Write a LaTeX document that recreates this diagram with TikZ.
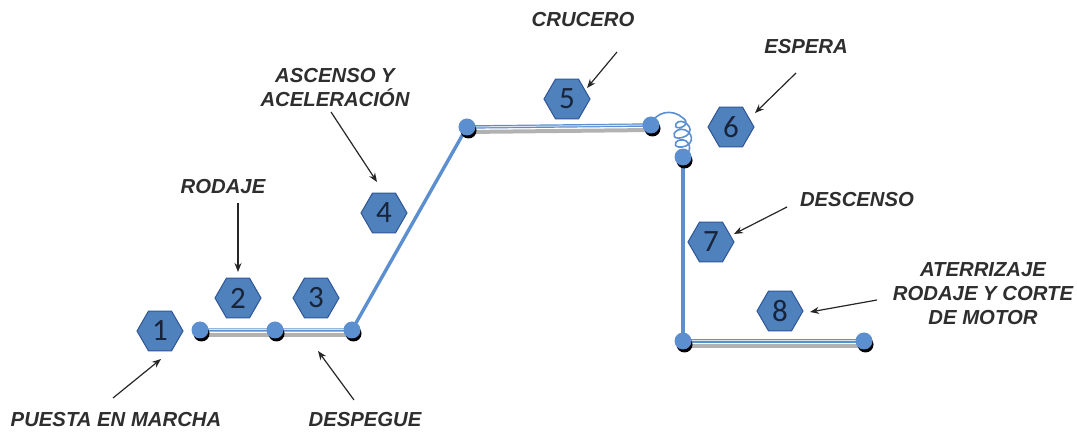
\documentclass[tikz,border=0pt]{standalone}
\usepackage{fontspec}
\setmainfont{Liberation Sans}
\newfontfamily\hexfont{Carlito}
\usetikzlibrary{shapes.geometric,arrows.meta}
\definecolor{hexfill}{HTML}{4F81BD}
\definecolor{hexedge}{HTML}{2F5597}
\definecolor{hextext}{HTML}{17243A}
\definecolor{pathblue}{HTML}{5B8FD0}
\definecolor{labgray}{HTML}{2E2E2E}
\tikzset{
  hexa/.style={regular polygon, regular polygon sides=6, minimum size=46pt, inner sep=0pt,
    fill=hexfill, draw=hexedge, line width=1pt, text=hextext, font=\hexfont\fontsize{31}{31}\selectfont},
  dotnode/.style={circle, minimum size=17pt, inner sep=0pt, fill=pathblue, draw=none},
  lab/.style={font=\bfseries\itshape\fontsize{20.3}{24}\selectfont, text=labgray, align=center, inner sep=0pt},
  arr/.style={-{Stealth[length=9pt,width=7pt]}, line width=1.2pt, black!85},
  shadowline/.style={line width=4pt, black!30, line cap=round},
  pathline/.style={line width=3.4pt, pathblue},
  hiline/.style={line width=1pt, white!75!pathblue},
}
\begin{document}
\begin{tikzpicture}[x=1pt,y=-1pt]
\useasboundingbox (0,0) rectangle (1077,435);
% dots positions
\coordinate (p1) at (200,330);
\coordinate (p2) at (275,330);
\coordinate (p3) at (352,330);
\coordinate (p4) at (467,127);
\coordinate (p5) at (651,125);
\coordinate (p6) at (683,157);
\coordinate (p7) at (683,341);
\coordinate (p8) at (864,341);
% shadows
\draw[shadowline] ([yshift=-5pt]p1) -- ([yshift=-5pt]p3);
\draw[shadowline] ([yshift=-5pt]p4) -- ([yshift=-5pt]p5);
\draw[shadowline] ([yshift=-5pt]p7) -- ([yshift=-5pt]p8);
% paths
\draw[pathline] (p1) -- (p3) -- (p4) -- (p5);
\draw[pathline] (p6) -- (p7) -- (p8);
\draw[hiline] (p1) -- (p3);
\draw[hiline] (p4) -- (p5);
\draw[hiline] (p7) -- (p8);
% holding pattern
\draw[pathblue, line width=1.6pt] (p5) .. controls (655,112) and (672,108) .. (683,118)
  .. controls (694,126) and (672,132) .. (676,124)
  .. controls (680,116) and (698,128) .. (686,136)
  .. controls (674,142) and (670,134) .. (678,130)
  .. controls (688,126) and (698,140) .. (686,146)
  .. controls (674,150) and (672,142) .. (680,140)
  .. controls (690,138) and (694,152) .. (p6);
% dot shadows and dots
\foreach \p in {p1,p2,p3,p4,p5,p6,p7,p8}{
  \fill[black] ([shift={(1.5pt,-3.5pt)}]\p) circle (8pt);
}
\node[dotnode] (d1) at (p1) {};
\node[dotnode] (d2) at (p2) {};
\node[dotnode] (d3) at (p3) {};
\node[dotnode] (d4) at (p4) {};
\node[dotnode] (d5) at (p5) {};
\node[dotnode] (d6) at (p6) {};
\node[dotnode] (d7) at (p7) {};
\node[dotnode] (d8) at (p8) {};
% hexagons
\node[hexa] (h1) at (160,331) {1};
\node[hexa] (h2) at (238,298) {2};
\node[hexa] (h3) at (316,298) {3};
\node[hexa] (h4) at (384,213) {4};
\node[hexa] (h5) at (567,99) {5};
\node[hexa] (h6) at (731,127) {6};
\node[hexa] (h7) at (711,242) {7};
\node[hexa] (h8) at (780,311) {8};
% labels
\node[lab] (l1) at (116,420) {PUESTA EN MARCHA};
\node[lab] (l2) at (223,187) {RODAJE};
\node[lab] (l3) at (365,420) {DESPEGUE};
\node[lab] (l4) at (335,88) {ASCENSO Y\\ACELERACIÓN};
\node[lab] (l5) at (583,20) {CRUCERO};
\node[lab] (l6) at (806,47) {ESPERA};
\node[lab] (l7) at (857,200) {DESCENSO};
\node[lab] (l8) at (983,294) {ATERRIZAJE\\RODAJE Y CORTE\\DE MOTOR};
% arrow ends
\coordinate (a1s) at (113,398); \coordinate (a1e) at (161,359);
\coordinate (a2s) at (238,203); \coordinate (a2e) at (238,272);
\coordinate (a3s) at (354,400); \coordinate (a3e) at (318,351);
\coordinate (a4s) at (331,112); \coordinate (a4e) at (377,182);
\coordinate (a5s) at (617,52);  \coordinate (a5e) at (587,88);
\coordinate (a6s) at (796,73);  \coordinate (a6e) at (755,113);
\coordinate (a7s) at (787,207); \coordinate (a7e) at (734,234);
\coordinate (a8s) at (877,300); \coordinate (a8e) at (810,312);
\foreach \i in {1,...,8}{
  \draw[arr] (a\i s) -- (a\i e);
}
\end{tikzpicture}
\end{document}
